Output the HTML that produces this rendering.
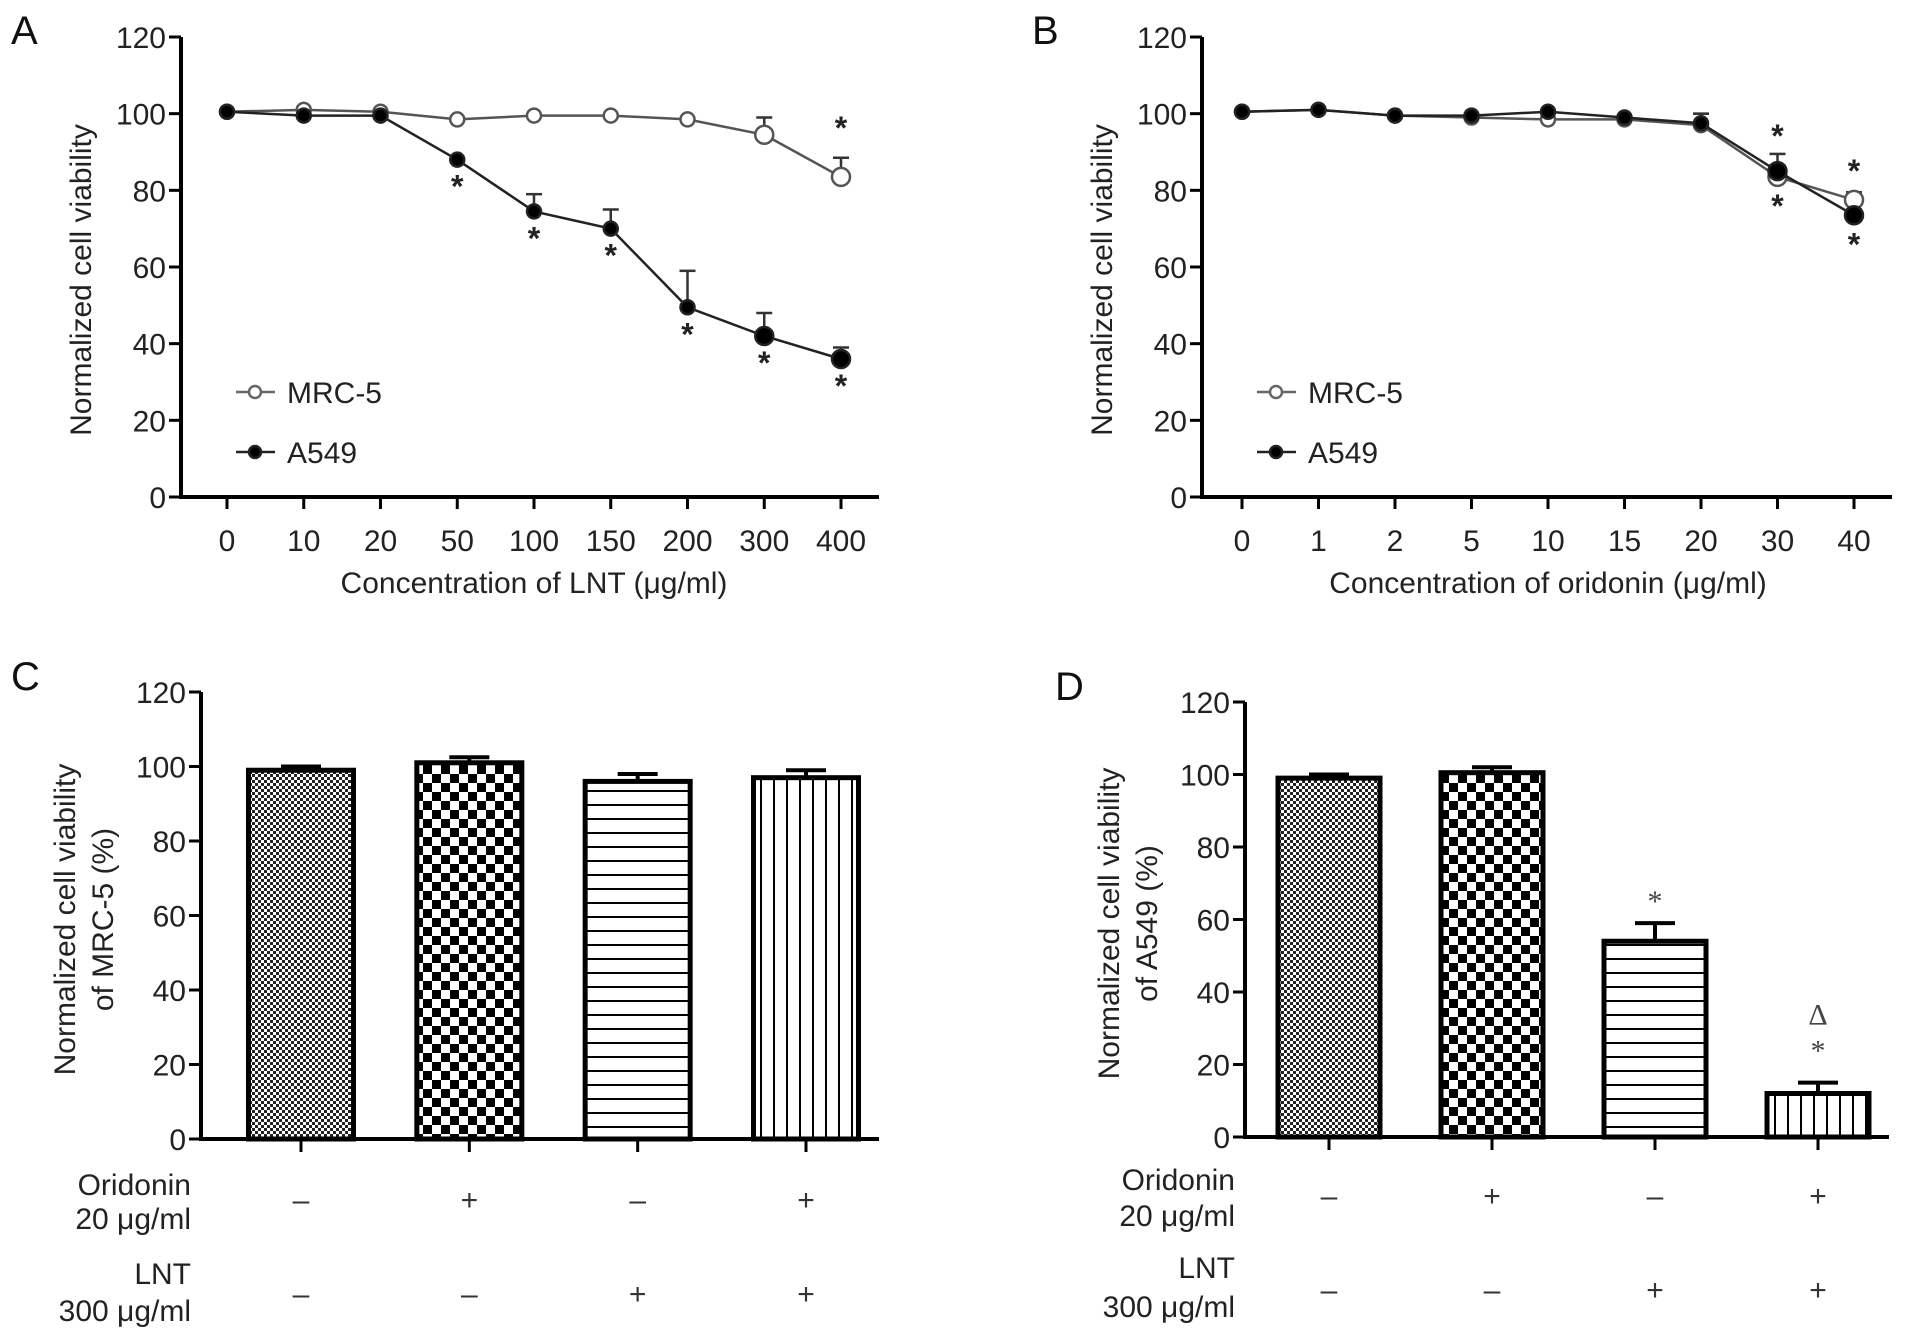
<!DOCTYPE html>
<html><head><meta charset="utf-8"><style>
html,body{margin:0;padding:0;background:#fff;}
svg{display:block;font-family:"Liberation Sans",Arial,sans-serif;}
</style></head><body>
<svg id="fig" width="1913" height="1342" viewBox="0 0 1913 1342" xmlns="http://www.w3.org/2000/svg">
<defs>
<pattern id="pFine" width="6" height="6" patternUnits="userSpaceOnUse"><rect width="6" height="6" fill="#fff"/><rect width="3" height="3" fill="#222"/><rect x="3" y="3" width="3" height="3" fill="#222"/></pattern>
<pattern id="pCoarse" width="18" height="18" patternUnits="userSpaceOnUse"><rect width="18" height="18" fill="#fff"/><rect width="9" height="9" fill="#000"/><rect x="9" y="9" width="9" height="9" fill="#000"/></pattern>
<pattern id="pHoriz" width="10" height="14" patternUnits="userSpaceOnUse"><rect width="10" height="14" fill="#fff"/><rect y="6" width="10" height="2" fill="#000"/></pattern>
<pattern id="pVert" width="13" height="10" patternUnits="userSpaceOnUse"><rect width="13" height="10" fill="#fff"/><rect x="6" width="2" height="10" fill="#000"/></pattern>
</defs>
</svg>
<script>
// Panel A data
const catsA = ['0','10','20','50','100','150','200','300','400'];
const mrcA = [100.5,101,100.5,98.5,99.5,99.5,98.5,94.5,83.5];
const mrcAErr = [0.5,0.5,0.5,1,0.5,0.5,1,4.5,5];
const a549A = [100.5,99.5,99.5,88,74.5,70,49.5,42,36];
const a549AErr = [0.5,0.5,0.5,0.5,4.5,5,9.5,6,3];
// Panel B data
const catsB = ['0','1','2','5','10','15','20','30','40'];
const mrcB = [100.5,101,99.5,99,98.5,98.5,97,83.5,77.5];
const mrcBErr = [0.5,0.5,0.5,0.5,0.5,0.5,3,3,2];
const a549B = [100.5,101,99.5,99.5,100.5,99,97.5,85,73.5];
const a549BErr = [0.5,0.5,0.5,0.5,0.5,0.5,2.5,4.5,1.5];
// Panel C / D data
const barsC = [99,101,96,97];
const barsCErr = [1,1.5,2,2];
const barsD = [99,100.5,54,12];
const barsDErr = [1,1.5,5,3];
const oridoninSigns = ['–','+','–','+'];
const lntSigns = ['–','–','+','+'];
const yTicks = [0,20,40,60,80,100,120];

const svg = document.getElementById('fig');
const NS = 'http://www.w3.org/2000/svg';
function mk(tag, attrs, parent){const e=document.createElementNS(NS,tag);for(const k in attrs)e.setAttribute(k,attrs[k]);(parent||svg).appendChild(e);return e;}
function txt(s, attrs, parent){const e=mk('text',attrs,parent);e.textContent=s;return e;}

function axes(g, ax){
  const y=v=>ax.y0+(ax.y120-ax.y0)*v/120;
  const yl=mk('line',{x1:ax.x,y1:ax.y120,x2:ax.x,y2:ax.y0+1,stroke:'#000','stroke-width':4},g);
  
  
  const xl=mk('line',{x1:ax.x-2,y1:ax.y0,x2:ax.xEnd,y2:ax.y0,stroke:'#000','stroke-width':4},g);
  
  
  yTicks.forEach(t=>{
    mk('line',{x1:ax.x-12,y1:y(t),x2:ax.x,y2:y(t),stroke:'#000','stroke-width':3},g);
    const tl=txt(String(t),{x:ax.x-15,y:y(t)+11,'font-size':30,'text-anchor':'end',fill:'#222'},g);
    
    
  });
  return y;
}
function star(g,x,yy,name){const s=txt('*',{x:x,y:yy,'font-size':32,'font-weight':'bold','text-anchor':'middle',fill:'#222'},g);}

function linePanel(id, ax, cats, mrc, mrcE, a549, a549E, xtitle, letter, stars){
  const g=mk('g',{});  
  const y=axes(g,ax);
  const xs=i=>ax.c0+(ax.c1-ax.c0)*i/(cats.length-1);
  cats.forEach((c,i)=>{
    mk('line',{x1:xs(i),y1:ax.y0,x2:xs(i),y2:ax.y0+12,stroke:'#000','stroke-width':3},g);
    const t=txt(c,{x:xs(i),y:ax.y0+54,'font-size':30,'text-anchor':'middle',fill:'#222'},g);
    
    
  });
  const series=[{v:mrc,e:mrcE,fill:'#fff',stroke:'#555',n:'mrc5'},{v:a549,e:a549E,fill:'#000',stroke:'#222',n:'a549'}];
  series.forEach(s=>{
    s.e.forEach((e,i)=>{ if(e>1){ mk('line',{x1:xs(i),y1:y(s.v[i]),x2:xs(i),y2:y(s.v[i]+e),stroke:'#333','stroke-width':2.5},g); mk('line',{x1:xs(i)-8,y1:y(s.v[i]+e),x2:xs(i)+8,y2:y(s.v[i]+e),stroke:'#333','stroke-width':2.5},g);} });
    const p=mk('polyline',{points:s.v.map((v,i)=>xs(i)+','+y(v)).join(' '),fill:'none',stroke:s.stroke,'stroke-width':2.5},g);
    
    
    s.v.forEach((v,i)=>{
      const r=i>=7?9:7;
      const c=mk('circle',{cx:xs(i),cy:y(v),r:r,fill:s.fill,stroke:s.stroke,'stroke-width':2.5},g);
      
      
    });
  });
  stars.forEach(st=>{const src=st[1]==='m'?mrc:a549;const yy=st[2]==='up'?y(src[st[0]])-st[3]:y(src[st[0]])+st[3];star(g,xs(st[0]),yy,'significance-star');});
  const t=txt(xtitle,{x:(ax.c0+ax.c1)/2,y:593,'font-size':30,'text-anchor':'middle',fill:'#222'},g);
   
  const yt=txt('Normalized cell viability',{x:0,y:0,'font-size':30,'text-anchor':'middle',fill:'#222',transform:`translate(${ax.x-90},280) rotate(-90)`},g);
   
  const L=txt(letter,{x:ax.x-170,y:44,'font-size':40,fill:'#111'},g);
   
  const lg=mk('g',{},g);  
  [[392,'MRC-5','#fff','#666'],[452,'A549','#000','#222']].forEach(l=>{
    const e=mk('g',{},lg);  
    mk('line',{x1:ax.x+55,y1:l[0],x2:ax.x+94,y2:l[0],stroke:l[3],'stroke-width':2.5},e);
    mk('circle',{cx:ax.x+74,cy:l[0],r:6,fill:l[2],stroke:l[3],'stroke-width':2.5},e);
    txt(l[1],{x:ax.x+106,y:l[0]+11,'font-size':30,fill:'#222'},e);
  });
}

linePanel('panel-a',{x:181,y0:497,y120:37,xEnd:879,c0:227,c1:841},catsA,mrcA,mrcAErr,a549A,a549AErr,'Concentration of LNT (μg/ml)','A',
  [[3,'a','dn',38],[4,'a','dn',38],[5,'a','dn',38],[6,'a','dn',38],[7,'a','dn',38],[8,'a','dn',38],[8,'m','up',38]]);
linePanel('panel-b',{x:1202,y0:497,y120:37,xEnd:1892,c0:1242,c1:1854},catsB,mrcB,mrcBErr,a549B,a549BErr,'Concentration of oridonin (μg/ml)','B',
  [[7,'a','up',24],[7,'m','dn',40],[8,'m','up',18],[8,'a','dn',40]]);

function barPanel(id, ax, vals, errs, letter, ytitle, rowY, annots){
  const g=mk('g',{});  
  const y=axes(g,ax);
  const xs=i=>ax.c0+(ax.c1-ax.c0)*i/3;
  const fills=['url(#pFine)','url(#pCoarse)','url(#pHoriz)','url(#pVert)'];
  vals.forEach((v,i)=>{
    const x=xs(i);
    const eTop=y(v+errs[i]);
    mk('line',{x1:x,y1:y(v),x2:x,y2:eTop,stroke:'#000','stroke-width':4},g);
    mk('line',{x1:x-20,y1:eTop,x2:x+20,y2:eTop,stroke:'#000','stroke-width':4},g);
    const b=mk('rect',{x:x-ax.w/2+2.5,y:y(v),width:ax.w-5,height:ax.y0-y(v),fill:fills[i],stroke:'#000','stroke-width':5},g);
    
    
    mk('line',{x1:x,y1:ax.y0,x2:x,y2:ax.y0+13,stroke:'#000','stroke-width':3},g);
    const s1=txt(oridoninSigns[i],{x:x,y:rowY[2]+10,'font-size':30,'text-anchor':'middle',fill:'#333'},g);
     
    const s2=txt(lntSigns[i],{x:x,y:rowY[5]+10,'font-size':30,'text-anchor':'middle',fill:'#333'},g);
     
  });
  annots.forEach(a=>{const t=txt(a[1],{x:xs(a[0]),y:y(vals[a[0]]+errs[a[0]])-a[2],'font-size':30,'text-anchor':'middle',fill:'#444','font-family':'Liberation Serif, serif'},g);});
  const rx=ax.x-10;
  [['Oridonin',rowY[0]],['20 μg/ml',rowY[1]],['LNT',rowY[3]],['300 μg/ml',rowY[4]]].forEach(r=>{
    const t=txt(r[0],{x:rx,y:r[1]+11,'font-size':30,'text-anchor':'end',fill:'#222'},g);
     
  });
  const yt=txt('',{x:0,y:0,'font-size':30,'text-anchor':'middle',fill:'#222',transform:`translate(${ax.x-126},${(ax.y0+ax.y120)/2+4}) rotate(-90)`},g);
   
  mk('tspan',{x:0,dy:0},yt).textContent='Normalized cell viability';
  mk('tspan',{x:0,dy:38},yt).textContent=ytitle;
  const L=txt(letter,{x:ax.x-190,y:ax.y120-2,'font-size':40,fill:'#111'},g);
   
}
barPanel('panel-c',{x:201,y0:1139,y120:692,xEnd:879,c0:301,c1:806,w:110},barsC,barsCErr,'C','of MRC-5 (%)',[1184,1218,1200,1273,1310,1294],[]);
barPanel('panel-d',{x:1245,y0:1137,y120:702,xEnd:1889,c0:1329,c1:1818,w:107},barsD,barsDErr,'D','of A549 (%)',[1179,1215,1196,1267,1306,1290],[[2,'*',12],[3,'*',22],[3,'Δ',58]]);
</script>
</body></html>
